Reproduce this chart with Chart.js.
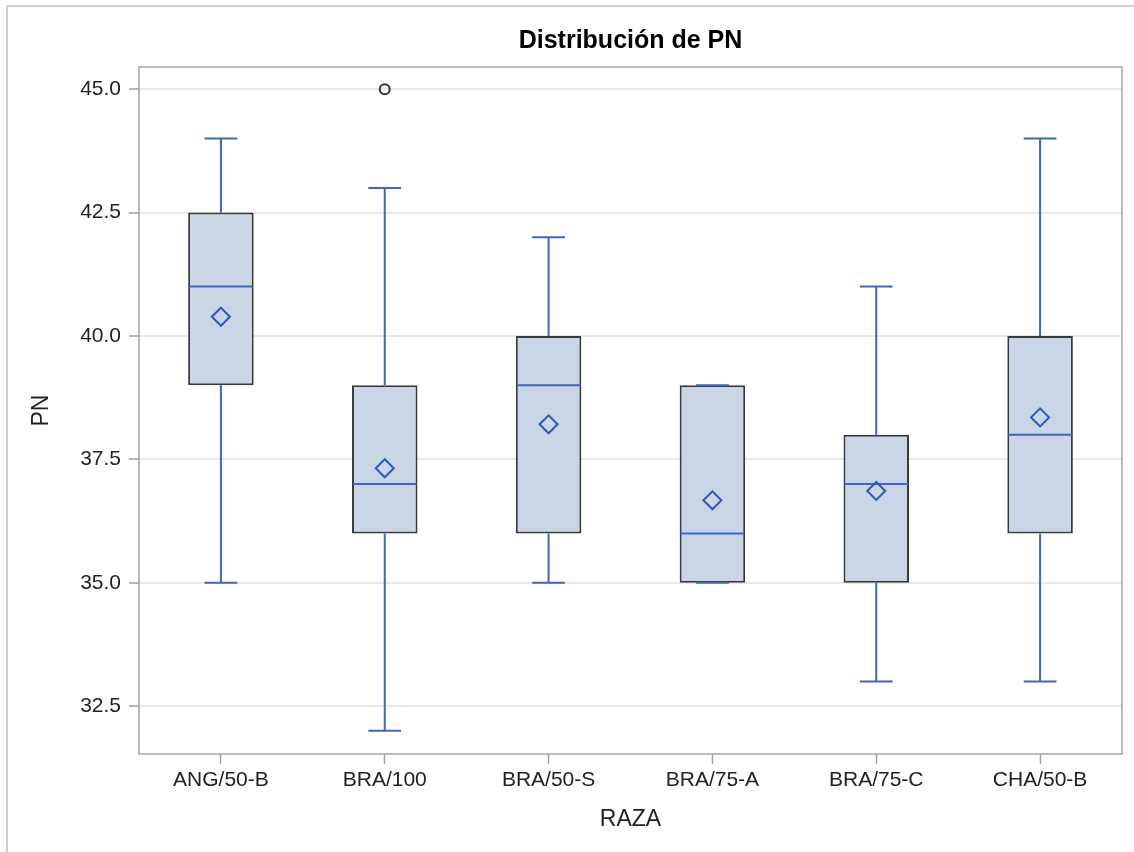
<!DOCTYPE html>
<html>
<head>
<meta charset="utf-8">
<title>Distribución de PN</title>
<script src="https://cdn.jsdelivr.net/npm/chart.js@4/dist/chart.umd.min.js"></script>
<style>
  html, body { margin: 0; padding: 0; background: #fff; }
  #wrap { width: 1134px; height: 852px; }
</style>
</head>
<body>
<div id="wrap"><canvas id="grafico" width="1134" height="852"></canvas></div>
<script>
// datos (resumen de cajas por raza)
const razas = ["ANG/50-B", "BRA/100", "BRA/50-S", "BRA/75-A", "BRA/75-C", "CHA/50-B"];
const minimos = [35, 32, 35, 35, 33, 33];
const q1 = [39, 36, 36, 35, 35, 36];
const medianas = [41, 37, 39, 36, 37, 38];
const q3 = [42.5, 39, 40, 39, 38, 40];
const maximos = [44, 43, 42, 39, 41, 44];
const medias = [40.39, 37.32, 38.21, 36.67, 36.86, 38.35];
const atipicos = [null, 45, null, null, null, null];
const yTicks = [32.5, 35, 37.5, 40, 42.5, 45];

const azul = "#3f66c4";
const fuente = "'Liberation Sans', Arial, sans-serif";

// bigotes, topes y medianas encima de cada caja
const bigotes = {
  id: "bigotes",
  afterDatasetDraw(chart, args) {
    if (args.index !== 0) return;
    const ctx = chart.ctx, y = chart.scales.y;
    const meta = chart.getDatasetMeta(0);
    ctx.save();
    ctx.strokeStyle = azul;
    ctx.lineWidth = 2;
    meta.data.forEach(function (bar, i) {
      const cx = bar.x, half = bar.width / 2, cap = bar.width / 4;
      ctx.beginPath();
      // bigote superior
      ctx.moveTo(cx, y.getPixelForValue(q3[i]));
      ctx.lineTo(cx, y.getPixelForValue(maximos[i]));
      ctx.moveTo(cx - cap, y.getPixelForValue(maximos[i]));
      ctx.lineTo(cx + cap, y.getPixelForValue(maximos[i]));
      // bigote inferior
      ctx.moveTo(cx, y.getPixelForValue(q1[i]));
      ctx.lineTo(cx, y.getPixelForValue(minimos[i]));
      ctx.moveTo(cx - cap, y.getPixelForValue(minimos[i]));
      ctx.lineTo(cx + cap, y.getPixelForValue(minimos[i]));
      // mediana
      ctx.moveTo(cx - half + 1, y.getPixelForValue(medianas[i]));
      ctx.lineTo(cx + half - 1, y.getPixelForValue(medianas[i]));
      ctx.stroke();
    });
    ctx.restore();
  }
};

// marco de la pagina y del area de trazado
const marcos = {
  id: "marcos",
  beforeDraw(chart) {
    const ctx = chart.ctx;
    ctx.save();
    ctx.strokeStyle = "#cfcfcf";
    ctx.lineWidth = 2;
    ctx.beginPath();
    ctx.moveTo(7, chart.height);
    ctx.lineTo(7, 6);
    ctx.lineTo(chart.width, 6);
    ctx.stroke();
    ctx.restore();
  },
  afterDraw(chart) {
    const a = chart.chartArea, ctx = chart.ctx;
    ctx.save();
    ctx.strokeStyle = "#a3a7ab";
    ctx.lineWidth = 1.5;
    ctx.strokeRect(a.left, a.top, a.right - a.left, a.bottom - a.top);
    ctx.restore();
  }
};

const ctx = document.getElementById("grafico").getContext("2d");
new Chart(ctx, {
  type: "bar",
  data: {
    labels: razas,
    datasets: [
      {
        label: "Caja",
        data: q1.map((v, i) => [v, q3[i]]),
        backgroundColor: "#cad5e6",
        borderColor: "#3a3a3a",
        borderWidth: 2,
        borderSkipped: false,
        barPercentage: 0.4,
        categoryPercentage: 1,
        order: 3
      },
      {
        type: "line",
        label: "Media",
        data: medias,
        showLine: false,
        pointStyle: "rectRot",
        pointRadius: 9,
        pointBorderWidth: 2,
        pointBorderColor: "#2f57ba",
        pointBackgroundColor: "rgba(0,0,0,0)",
        order: 1
      },
      {
        type: "line",
        label: "Atípico",
        data: atipicos,
        showLine: false,
        pointStyle: "circle",
        pointRadius: 5,
        pointBorderWidth: 2,
        pointBorderColor: "#333333",
        pointBackgroundColor: "rgba(0,0,0,0)",
        order: 1
      }
    ]
  },
  options: {
    responsive: false,
    animation: false,
    devicePixelRatio: 1,
    layout: { padding: { left: 0, top: 0, right: 12, bottom: 0 } },
    plugins: {
      legend: { display: false },
      tooltip: { enabled: false },
      title: {
        display: true,
        text: "Distribución de PN",
        fullSize: false,
        color: "#000",
        font: { family: fuente, size: 25, weight: "bold", lineHeight: 1.2 },
        padding: { top: 26.5, bottom: 10.5 }
      }
    },
    scales: {
      x: {
        offset: true,
        grid: { drawOnChartArea: false, offset: false, tickLength: 10, tickColor: "#a0a0a0", tickWidth: 1.5 },
        border: { display: false },
        ticks: { color: "#222", padding: 4, font: { family: fuente, size: 21 }, maxRotation: 0 },
        title: {
          display: true,
          text: "RAZA",
          color: "#222",
          font: { family: fuente, size: 23, lineHeight: 1.2 },
          padding: { top: 0, bottom: 19 }
        },
        afterFit: function (scale) { scale.height = 98; }
      },
      y: {
        min: 31.53,
        max: 45.45,
        afterBuildTicks: function (scale) {
          scale.ticks = yTicks.map(v => ({ value: v }));
        },
        grid: { color: "#e8e8e8", lineWidth: 2, tickLength: 10, tickColor: "#a0a0a0", tickWidth: 1.5 },
        border: { display: false },
        ticks: {
          color: "#222",
          padding: 8,
          font: { family: fuente, size: 21 },
          callback: function (v) { return Number(v).toFixed(1); }
        },
        title: {
          display: true,
          text: "PN",
          color: "#222",
          font: { family: fuente, size: 23, lineHeight: 1.2 },
          padding: { top: 28, bottom: 0 }
        },
        afterFit: function (scale) { scale.width = 139; }
      }
    }
  },
  plugins: [bigotes, marcos]
});
</script>
</body>
</html>
